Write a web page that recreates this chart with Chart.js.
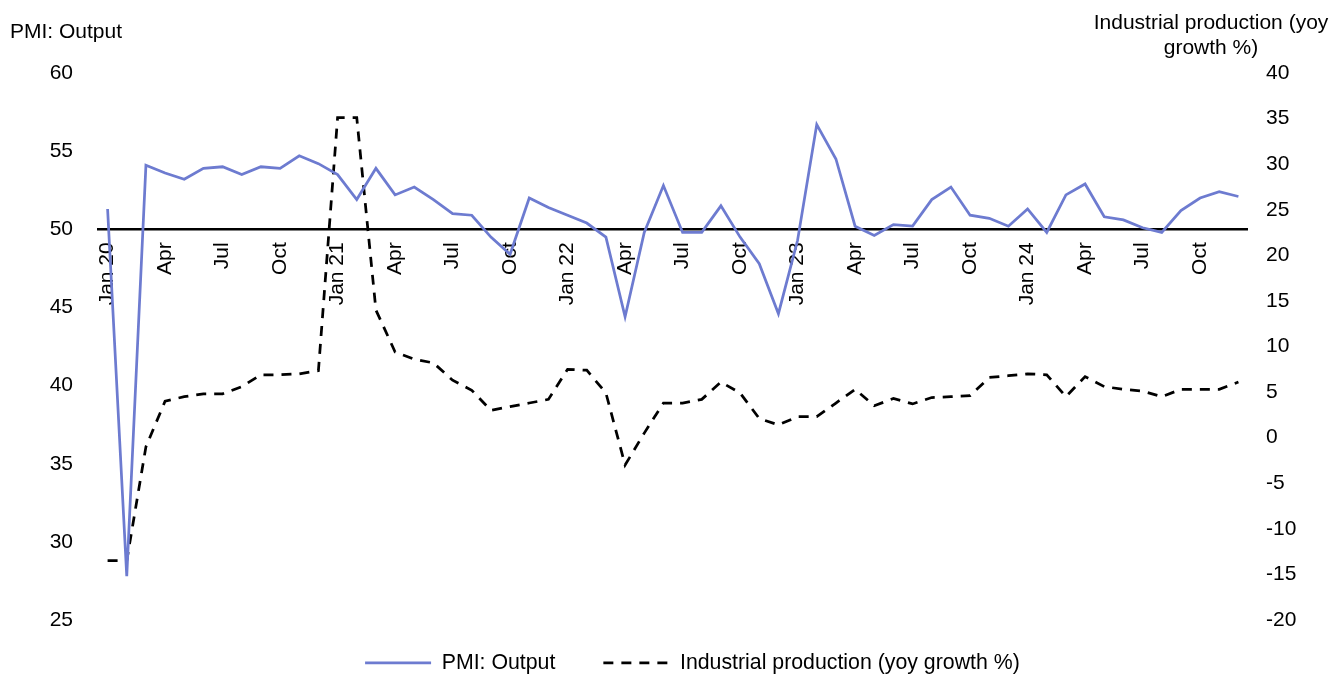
<!DOCTYPE html>
<html>
<head>
<meta charset="utf-8">
<title>PMI output and industrial production</title>
<script src="https://cdn.jsdelivr.net/npm/chart.js@4/dist/chart.umd.min.js"></script>
<style>
  html, body { margin: 0; padding: 0; background: #ffffff; }
  #wrap { width: 1333px; height: 675px; position: relative; }
</style>
</head>
<body>
<div id="wrap"><canvas id="chart" width="1333" height="675"></canvas></div>
<script>
// Monthly categories, Jan 2020 – Dec 2024 (only quarter starts are labelled)
const months = [
  'Jan 20','Feb','Mar','Apr','May','Jun','Jul','Aug','Sep','Oct','Nov','Dec',
  'Jan 21','Feb','Mar','Apr','May','Jun','Jul','Aug','Sep','Oct','Nov','Dec',
  'Jan 22','Feb','Mar','Apr','May','Jun','Jul','Aug','Sep','Oct','Nov','Dec',
  'Jan 23','Feb','Mar','Apr','May','Jun','Jul','Aug','Sep','Oct','Nov','Dec',
  'Jan 24','Feb','Mar','Apr','May','Jun','Jul','Aug','Sep','Oct','Nov','Dec'
];

// PMI: Output (left axis)
const pmiOutput = [
  51.3, 27.8, 54.1, 53.6, 53.2, 53.9, 54.0, 53.5, 54.0, 53.9, 54.7, 54.2,
  53.5, 51.9, 53.9, 52.2, 52.7, 51.9, 51.0, 50.9, 49.5, 48.4, 52.0, 51.4,
  50.9, 50.4, 49.5, 44.4, 49.8, 52.8, 49.8, 49.8, 51.5, 49.5, 47.8, 44.6,
  49.3, 56.7, 54.5, 50.2, 49.6, 50.3, 50.2, 51.9, 52.7, 50.9, 50.7, 50.2,
  51.3, 49.8, 52.2, 52.9, 50.8, 50.6, 50.1, 49.8, 51.2, 52.0, 52.4, 52.1
];

// Industrial production, yoy growth % (right axis)
const industrialProduction = [
  -13.5, -13.5, -1.0, 4.0, 4.5, 4.8, 4.8, 5.6, 6.9, 6.9, 7.0, 7.35,
  35.1, 35.1, 14.0, 9.4, 8.6, 8.2, 6.3, 5.2, 3.0, 3.4, 3.8, 4.2,
  7.5, 7.4, 4.9, -3.0, 0.5, 3.8, 3.8, 4.2, 6.1, 4.9, 2.1, 1.4,
  2.3, 2.3, 3.8, 5.3, 3.5, 4.3, 3.7, 4.4, 4.5, 4.6, 6.6, 6.8,
  7.0, 6.9, 4.5, 6.7, 5.6, 5.3, 5.1, 4.5, 5.3, 5.3, 5.3, 6.1
];

// Axis ranges
const pmiAxis = { min: 25, max: 60, step: 5 };
const ipAxis = { min: -20, max: 40, step: 5 };
const pmiBaseline = 50;

const FONT = "'Liberation Sans', Arial, Helvetica, sans-serif";
const FONT_SIZE = 21;
const LEGEND_FONT_SIZE = 21.3;
Chart.defaults.font.family = FONT;
Chart.defaults.font.size = FONT_SIZE;
Chart.defaults.color = '#000000';

// Horizontal captions above each value axis
const axisCaptions = {
  id: 'axisCaptions',
  afterDraw(chart) {
    const ctx = chart.ctx;
    ctx.save();
    ctx.fillStyle = '#000000';
    ctx.font = FONT_SIZE + 'px ' + FONT;
    ctx.textBaseline = 'alphabetic';
    ctx.textAlign = 'left';
    ctx.fillText('PMI: Output', 10, 38);
    ctx.textAlign = 'center';
    ctx.fillText('Industrial production (yoy', 1211, 28.5);
    ctx.fillText('growth %)', 1211, 53.5);
    ctx.restore();
  }
};

// Nudge the legend row a little to the right of the plot centre
const legendOffset = {
  id: 'legendOffset',
  afterLayout(chart) {
    const lg = chart.legend;
    if (lg) { lg.left += 19.4; lg.right += 19.4; }
  }
};

// Legend entries drawn as line samples carrying each dataset's stroke and dash
function lineLegendLabels(chart) {
  const items = Chart.defaults.plugins.legend.labels.generateLabels(chart);
  return items.map((item) => {
    const ds = chart.data.datasets[item.datasetIndex];
    item.lineWidth = ds.borderWidth;
    item.lineDash = ds.borderDash || [];
    item.strokeStyle = ds.borderColor;
    item.fillStyle = ds.borderColor;
    item.pointStyle = 'line';
    return item;
  });
}

new Chart(document.getElementById('chart'), {
  type: 'line',
  data: {
    labels: months,
    datasets: [
      {
        label: 'PMI: Output',
        data: pmiOutput,
        yAxisID: 'y',
        borderColor: '#6d7bd0',
        backgroundColor: '#6d7bd0',
        borderWidth: 2.75,
        pointRadius: 0,
        pointHoverRadius: 0,
        tension: 0,
        fill: false
      },
      {
        label: 'Industrial production (yoy growth %)',
        data: industrialProduction,
        yAxisID: 'y1',
        borderColor: '#000000',
        backgroundColor: '#000000',
        borderWidth: 2.75,
        borderDash: [10, 8],
        pointRadius: 0,
        pointHoverRadius: 0,
        tension: 0,
        fill: false
      }
    ]
  },
  options: {
    responsive: false,
    animation: false,
    devicePixelRatio: 1,
    layout: { padding: { left: 24.65, right: 18.65, top: 73, bottom: 0 } },
    plugins: {
      tooltip: { enabled: false },
      legend: {
        position: 'bottom',
        fullSize: false,
        maxHeight: 55,
        // empty title with negative padding pulls the entry row up so the
        // horizontal gap between entries can stay wide
        title: {
          display: true,
          text: '',
          font: { size: 1, lineHeight: 1 },
          padding: { top: -8.4, bottom: -8.4 }
        },
        labels: {
          usePointStyle: true,
          pointStyle: 'line',
          pointStyleWidth: 66,
          padding: 48,
          color: '#000000',
          font: { size: LEGEND_FONT_SIZE },
          generateLabels: lineLegendLabels
        }
      }
    },
    scales: {
      x: {
        type: 'category',
        position: { y: pmiBaseline },
        offset: true,
        grid: { display: false, drawTicks: false },
        border: { display: true, color: '#000000', width: 2.5 },
        ticks: {
          autoSkip: false,
          maxRotation: 90,
          minRotation: 90,
          padding: 13,
          color: '#000000',
          font: { size: FONT_SIZE },
          callback: function (value, index) {
            return index % 3 === 0 ? months[index] : '';
          }
        }
      },
      y: {
        position: 'left',
        min: pmiAxis.min,
        max: pmiAxis.max,
        grid: { display: false, drawTicks: false },
        border: { display: false },
        ticks: { stepSize: pmiAxis.step, padding: 25, color: '#000000', font: { size: FONT_SIZE } }
      },
      y1: {
        position: 'right',
        min: ipAxis.min,
        max: ipAxis.max,
        grid: { display: false, drawTicks: false },
        border: { display: false },
        ticks: { stepSize: ipAxis.step, padding: 18, color: '#000000', font: { size: FONT_SIZE } }
      }
    }
  },
  plugins: [axisCaptions, legendOffset]
});
</script>
</body>
</html>
